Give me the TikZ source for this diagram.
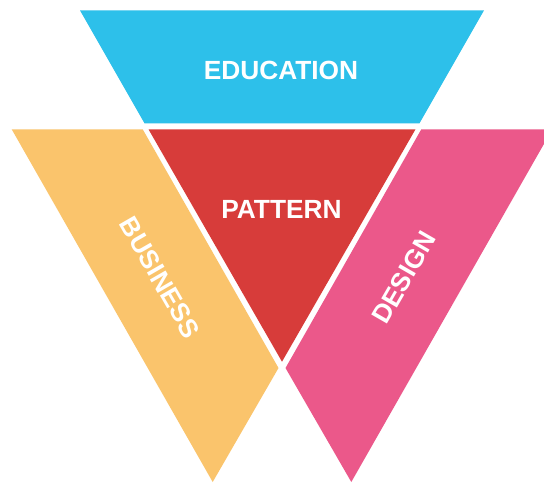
\documentclass[tikz,border=0pt]{standalone}
\usepackage{fontspec}
\setmainfont{Liberation Sans}
\definecolor{cBlue}{RGB}{45,192,234}
\definecolor{cRed}{RGB}{215,60,58}
\definecolor{cYellow}{RGB}{250,196,108}
\definecolor{cPink}{RGB}{235,88,138}
\tikzset{
  lbl/.style={text=white, font=\bfseries\fontsize{26.3}{30}\selectfont, inner sep=0pt, anchor=center},
}
\begin{document}
\begin{tikzpicture}[x=1pt,y=-1pt]
\clip (0,0) rectangle (544,483);
\fill[white] (0,0) rectangle (544,483);
% shapes
\fill[cBlue] (80,10.4) -- (484,10.4) -- (419.5,123.3) -- (144.5,123.3) -- cycle;
\fill[cRed] (148.5,129.3) -- (415.5,129.3) -- (282,361.7) -- cycle;
\fill[cYellow] (11.7,129.3) -- (142.7,129.3) -- (278.5,368) -- (212.7,482) -- cycle;
\fill[cPink] (552.3,129.3) -- (421.3,129.3) -- (285.5,368) -- (351.3,482) -- cycle;
% labels
\node[lbl] (edu) at (281,70.5) {EDUCATION};
\node[lbl] (pat) at (281.5,209.5) {PATTERN};
\node[lbl, rotate=-60] (bus) at (160,277.5) {BUSINESS};
\node[lbl, rotate=60] (des) at (404,277.5) {DESIGN};
\end{tikzpicture}
\end{document}
